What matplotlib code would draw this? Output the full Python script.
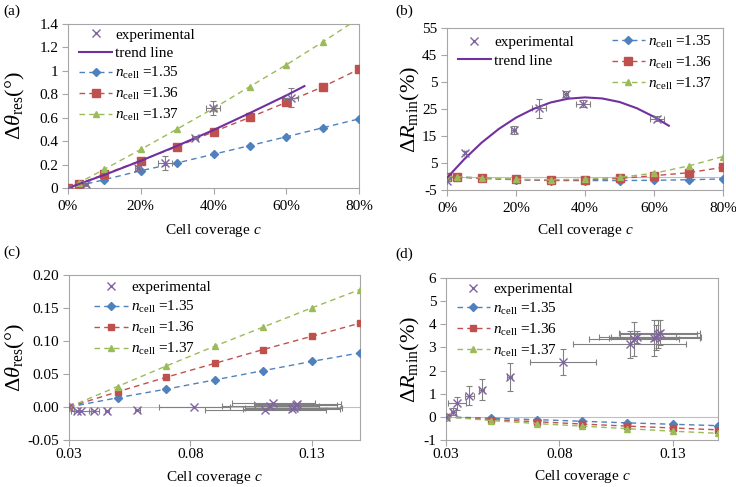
import matplotlib
matplotlib.use("Agg")
import matplotlib.pyplot as plt
from matplotlib.lines import Line2D

plt.rcParams['font.family'] = ['Liberation Serif', 'DejaVu Serif']
plt.rcParams['mathtext.fontset'] = 'custom'
plt.rcParams['mathtext.rm'] = 'Liberation Serif'
plt.rcParams['mathtext.it'] = 'Liberation Serif:italic'
plt.rcParams['mathtext.bf'] = 'Liberation Serif:bold'

# ---------------- data ----------------
# panels (a)/(b): simulated
cov_ab = [0, 0.03, 0.1, 0.2, 0.3, 0.4, 0.5, 0.6, 0.7, 0.8]
a_n135 = [0, 0.02, 0.071, 0.148, 0.214, 0.288, 0.362, 0.437, 0.514, 0.59]
a_n136 = [0, 0.035, 0.117, 0.234, 0.354, 0.48, 0.603, 0.731, 0.863, 1.014]
a_n137 = [0, 0.045, 0.16, 0.329, 0.503, 0.68, 0.866, 1.051, 1.246, 1.45]
b_n135 = [0, -0.2, -0.7, -1.2, -1.5, -1.5, -1.5, -1.4, -1.2, -0.9]
b_n136 = [0, -0.2, -0.6, -1.1, -1.4, -1.3, -0.7, 0.3, 1.4, 3.4]
b_n137 = [0, -0.1, -0.5, -1.0, -1.2, -1.0, -0.3, 1.2, 3.9, 7.4]

# panel (a) experimental
a_exp_c = [0, 0.05, 0.193, 0.267, 0.35, 0.399, 0.613]
a_exp_y = [0, 0.03, 0.171, 0.214, 0.431, 0.68, 0.771]
a_exp_xerr = [0, 0.005, 0.008, 0.02, 0.008, 0.02, 0.02]
a_exp_yerr = [0, 0.01, 0.02, 0.06, 0.015, 0.06, 0.08]
a_trend_c = [0, 0.1, 0.2, 0.3, 0.4, 0.5, 0.6, 0.65]
a_trend_y = [0, 0.112, 0.232, 0.36, 0.495, 0.64, 0.79, 0.87]

# panel (b) experimental
b_exp_c = [0, 0.051, 0.193, 0.266, 0.344, 0.395, 0.609]
b_exp_y = [-1.6, 8.8, 17.3, 25.3, 30.5, 27.0, 21.4]
b_exp_xerr = [0, 0.003, 0.008, 0.02, 0.008, 0.02, 0.02]
b_exp_yerr = [0, 0.5, 1.5, 3.5, 1.0, 1.2, 1.0]
b_trend_c = [0, 0.05, 0.1, 0.15, 0.2, 0.25, 0.3, 0.35, 0.4, 0.45, 0.5, 0.55, 0.6, 0.643]
b_trend_y = [-0.5, 6.4, 12.5, 17.6, 21.8, 25.0, 27.4, 28.8, 29.3, 28.9, 27.6, 25.3, 22.1, 18.8]

# panels (c)/(d): simulated
cov_cd = [0.03, 0.05, 0.07, 0.09, 0.11, 0.13, 0.15]
c_n135 = [0, 0.014, 0.027, 0.041, 0.055, 0.069, 0.082]
c_n136 = [0, 0.023, 0.045, 0.066, 0.087, 0.107, 0.127]
c_n137 = [0, 0.031, 0.062, 0.092, 0.121, 0.150, 0.178]
d_n135 = [0, -0.06, -0.12, -0.19, -0.26, -0.32, -0.38]
d_n136 = [0, -0.12, -0.21, -0.31, -0.40, -0.48, -0.56]
d_n137 = [0, -0.16, -0.29, -0.40, -0.51, -0.62, -0.71]

# panels (c)/(d): experimental
cd_exp_c = [0.03, 0.0332, 0.035, 0.0403, 0.0457, 0.0581, 0.0817, 0.111, 0.1129,
            0.1143, 0.1219, 0.1227, 0.1236, 0.1242]
cd_exp_xerr = [0, 0.001, 0.004, 0.002, 0.001, 0.001, 0.0145, 0.025, 0.02,
               0.017, 0.02, 0.02, 0.017, 0.018]
c_exp_y = [0, -0.006, -0.006, -0.006, -0.006, -0.005, 0.0, -0.0045, 0.0015,
           0.0056, -0.0025, -0.001, 0.0036, 0.004]
d_exp_y = [0, 0.22, 0.58, 0.92, 1.18, 1.71, 2.37, 3.14, 3.38, 3.45, 3.41, 3.44, 3.57, 3.64]
d_exp_yerr = [0, 0.15, 0.27, 0.4, 0.46, 0.6, 0.57, 0.58, 0.73, 0.25, 0.78, 0.55, 0.6, 0.55]

pct_ticks = [0, 0.2, 0.4, 0.6, 0.8]
pct_labels = ['0%', '20%', '40%', '60%', '80%']
a_yticks = [0, 0.2, 0.4, 0.6, 0.8, 1.0, 1.2, 1.4]
a_ylabels = ['0', '0.2', '0.4', '0.6', '0.8', '1', '1.2', '1.4']
b_yticks = [-5, 5, 15, 25, 35, 45, 55]
b_ylabels = ['-5', '5', '15', '25', '5', '45', '55']
cd_xticks = [0.03, 0.08, 0.13]
cd_xlabels = ['0.03', '0.08', '0.13']
c_yticks = [-0.05, 0, 0.05, 0.10, 0.15, 0.20]
c_ylabels = ['-0.05', '0.00', '0.05', '0.10', '0.15', '0.20']
d_yticks = [-1, 0, 1, 2, 3, 4, 5, 6]
d_ylabels = ['-1', '0', '1', '2', '3', '4', '5', '6']

n_labels = [r'$n_{\rm cell}$ =1.35', r'$n_{\rm cell}$ =1.36', r'$n_{\rm cell}$ =1.37']

# ---------------- style ----------------
BLUE = '#4F81BD'
RED = '#C0504D'
GREEN = '#9BBB59'
PURPLE = '#7030A0'
EXPC = '#8064A2'
ERRC = '#808080'
FRAME = '#A6A6A6'
FS = 11

W, H = 736, 487
fig = plt.figure(figsize=(W / 100, H / 100), dpi=100)


def box(l, t, r, b):
    return [l / W, 1 - b / H, (r - l) / W, (b - t) / H]


axa = fig.add_axes(box(68, 24, 359, 188))
axb = fig.add_axes(box(447, 28, 723, 190))
axc = fig.add_axes(box(69, 275, 360, 440))
axd = fig.add_axes(box(446, 278, 718, 440))


def style(ax, xpad):
    for s in ax.spines.values():
        s.set_color(FRAME)
        s.set_linewidth(0.8)
    ax.tick_params(direction='out', length=4, width=0.8, color=FRAME,
                   labelsize=FS, pad=3)
    ax.tick_params(axis='x', pad=xpad)


def sim(ax, x, ys, ms=(4.5, 5, 5)):
    h = []
    for y, col, mk, m in zip(ys, [BLUE, RED, GREEN], ['D', 's', '^'], ms):
        ln, = ax.plot(x, y, linestyle=(0, (4, 3)), color=col, lw=1.0,
                      marker=mk, markersize=m, markerfacecolor=col,
                      markeredgecolor=col, zorder=3)
        h.append(ln)
    return h


def exp(ax, x, y, xerr, yerr):
    ax.errorbar(x, y, xerr=xerr, yerr=yerr, fmt='none', ecolor=ERRC,
                elinewidth=0.8, capsize=2, capthick=0.8, zorder=4)
    ln, = ax.plot(x, y, linestyle='none', marker='x', markersize=5.5,
                  markeredgewidth=1.0, color=EXPC, zorder=5)
    return ln


def exp_handle():
    return Line2D([], [], linestyle='none', marker='x', markersize=6,
                  markeredgewidth=1.0, color=EXPC)


LEG = dict(frameon=False, fontsize=FS, handlelength=2.2, handletextpad=0.2,
           labelspacing=0.32, borderaxespad=0.3)

# ---------------- (a) ----------------
style(axa, 5)
ha = sim(axa, cov_ab, [a_n135, a_n136, a_n137], ms=(4.5, 5.5, 5))
exp(axa, a_exp_c, a_exp_y, a_exp_xerr, a_exp_yerr)
tr, = axa.plot(a_trend_c, a_trend_y, color=PURPLE, lw=1.5, zorder=4)
axa.set_xlim(0, 0.8)
axa.set_ylim(0, 1.4)
axa.set_xticks(pct_ticks, pct_labels)
axa.set_yticks(a_yticks, a_ylabels)
axa.set_xlabel('Cell coverage $c$', fontsize=FS)
axa.set_ylabel(r'$\Delta\theta_{\rm res}$(°)', fontsize=16)
axa.xaxis.set_label_coords(0.5, -0.21)
axa.yaxis.set_label_coords(-0.14, 0.5)
axa.legend([exp_handle(), tr] + ha, ['experimental', 'trend line'] + n_labels,
           loc='upper left', bbox_to_anchor=(0.0, 1.04), **LEG)

# ---------------- (b) ----------------
style(axb, 5)
axb.axhline(0, color='#BFBFBF', lw=0.8, zorder=1)
hb = sim(axb, cov_ab, [b_n135, b_n136, b_n137], ms=(4.5, 6, 5))
exp(axb, b_exp_c, b_exp_y, b_exp_xerr, b_exp_yerr)
trb, = axb.plot(b_trend_c, b_trend_y, color=PURPLE, lw=1.5, zorder=4)
axb.set_xlim(0, 0.8)
axb.set_ylim(-5, 55)
axb.set_xticks(pct_ticks, pct_labels)
axb.set_yticks(b_yticks, b_ylabels)
axb.set_xlabel('Cell coverage $c$', fontsize=FS)
axb.set_ylabel(r'$\Delta R_{\rm min}$(%)', fontsize=16)
axb.xaxis.set_label_coords(0.5, -0.2)
axb.yaxis.set_label_coords(-0.09, 0.5)
lg1 = axb.legend([exp_handle(), trb], ['experimental', 'trend line'],
                 loc='upper left', bbox_to_anchor=(0.0, 1.02), **LEG)
axb.add_artist(lg1)
axb.legend(hb, n_labels, loc='upper right', bbox_to_anchor=(1.0, 1.03), **LEG)

# ---------------- (c) ----------------
style(axc, 2)
axc.axhline(0, color='#BFBFBF', lw=0.8, zorder=1)
hc = sim(axc, cov_cd, [c_n135, c_n136, c_n137], ms=(4.5, 4.5, 4.5))
exp(axc, cd_exp_c, c_exp_y, cd_exp_xerr, None)
axc.set_xlim(0.03, 0.15)
axc.set_ylim(-0.05, 0.20)
axc.set_xticks(cd_xticks, cd_xlabels)
axc.set_yticks(c_yticks, c_ylabels)
axc.set_xlabel('Cell coverage $c$', fontsize=FS)
axc.set_ylabel(r'$\Delta\theta_{\rm res}$(°)', fontsize=16)
axc.xaxis.set_label_coords(0.5, -0.175)
axc.yaxis.set_label_coords(-0.145, 0.5)
axc.legend([exp_handle()] + hc, ['experimental'] + n_labels,
           loc='upper left', bbox_to_anchor=(0.05, 1.03), **LEG)

# ---------------- (d) ----------------
style(axd, 2)
axd.axhline(0, color='#BFBFBF', lw=0.8, zorder=1)
hd = sim(axd, cov_cd, [d_n135, d_n136, d_n137], ms=(4.5, 4.5, 4.5))
exp(axd, cd_exp_c, d_exp_y, cd_exp_xerr, d_exp_yerr)
axd.set_xlim(0.03, 0.15)
axd.set_ylim(-1, 6)
axd.set_xticks(cd_xticks, cd_xlabels)
axd.set_yticks(d_yticks, d_ylabels)
axd.set_xlabel('Cell coverage $c$', fontsize=FS)
axd.set_ylabel(r'$\Delta R_{\rm min}$(%)', fontsize=16)
axd.xaxis.set_label_coords(0.5, -0.175)
axd.yaxis.set_label_coords(-0.09, 0.5)
axd.legend([exp_handle()] + hd, ['experimental'] + n_labels,
           loc='upper left', bbox_to_anchor=(0.0, 1.04), **LEG)

# panel letters
for txt, x, y in [('(a)', 3, 5), ('(b)', 395, 5), ('(c)', 3, 246), ('(d)', 395, 248)]:
    fig.text(x / W, 1 - y / H, txt, fontsize=FS, ha='left', va='top')

fig.savefig('out.png', dpi=100)
